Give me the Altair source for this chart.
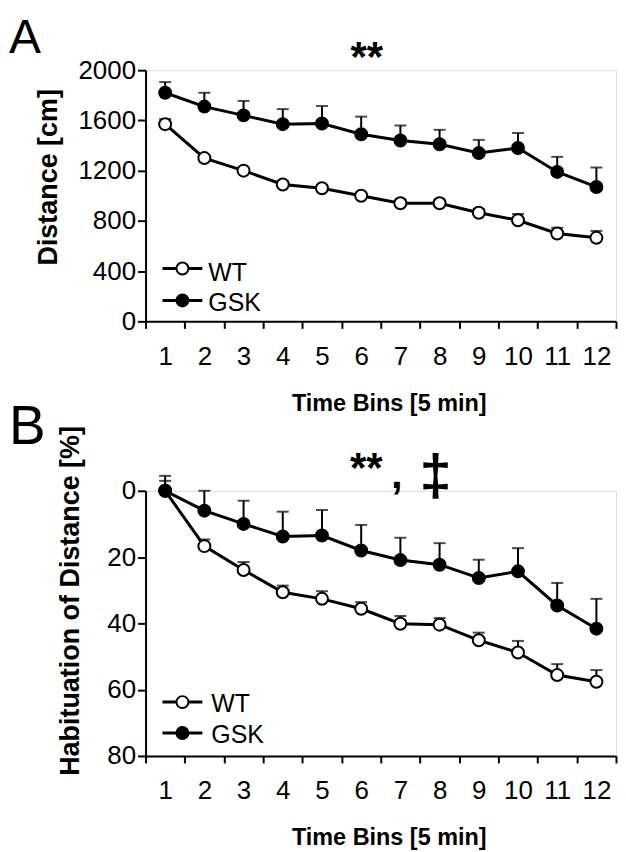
import altair as alt
import pandas as pd

bins = list(range(1, 13))
series_names = ["WT", "GSK"]

# Panel A: Distance [cm] (mean, SEM)
dist_wt = [1570, 1300, 1200, 1090, 1060, 1000, 940, 940, 865, 805, 700, 665]
dist_wt_err = [40, 25, 25, 25, 25, 25, 30, 30, 30, 50, 45, 55]
dist_gsk = [1820, 1710, 1640, 1570, 1575, 1490, 1440, 1410, 1340, 1380, 1190, 1070]
dist_gsk_err = [85, 110, 115, 120, 140, 140, 120, 115, 105, 120, 120, 155]

# Panel B: Habituation of Distance [%] (mean, SEM)
hab_wt = [0, 16.7, 23.9, 30.6, 32.6, 35.6, 40.1, 40.4, 45.1, 48.8, 55.6, 57.6]
hab_wt_err = [3, 2, 2.4, 2, 2.3, 2, 2.3, 2, 2.3, 3.5, 3.3, 3.5]
hab_gsk = [0, 6.0, 10.0, 13.8, 13.5, 18.0, 20.9, 22.3, 26.3, 24.3, 34.6, 41.6]
hab_gsk_err = [4.5, 6, 7, 7.5, 7.7, 7.7, 6.7, 6.5, 5.5, 7, 6.8, 9]

FONT = "Liberation Sans"
W = 472


def make_df(wt, wt_err, gsk, gsk_err, sign):
    rows = []
    for name, vals, errs in (("WT", wt, wt_err), ("GSK", gsk, gsk_err)):
        for b, v, e in zip(bins, vals, errs):
            rows.append({"bin": b, "series": name, "value": v, "top": v + sign * e})
    return pd.DataFrame(rows)


def panel(df, height, domain, values, label_step, reverse, y_title, y_title_x, y_title_y,
          letter, letter_size, letter_y, leg_rows, annotations, spacer=None):
    x = alt.X(
        "bin:O",
        sort=bins,
        scale=alt.Scale(paddingInner=0, paddingOuter=0),
        axis=alt.Axis(
            title="Time Bins [5 min]", titleFont=FONT, titleFontSize=23.5, titleFontWeight="bold",
            titleX=244, titleY=82, titleBaseline="middle", titleAlign="center",
            labelAngle=0, labelFont=FONT, labelFontSize=26, labelPadding=15, labelBaseline="top",
            labelColor="black", ticks=True, tickBand="extent", tickSize=7, tickWidth=2,
            tickColor="black", domainWidth=2, domainColor="black", grid=False,
        ),
    )
    yscale = alt.Scale(domain=domain, nice=False, zero=False, reverse=reverse)
    y = alt.Y(
        "value:Q",
        scale=yscale,
        axis=alt.Axis(
            title=y_title, titleFont=FONT, titleFontSize=27, titleFontWeight="bold",
            titleX=y_title_x, titleY=y_title_y, titleBaseline="middle", titleAlign="center",
            titleAngle=270,
            values=values, labelExpr=f"datum.value % {label_step} === 0 ? datum.label : ''",
            format="d", labelFont=FONT, labelFontSize=26, labelPadding=2, labelColor="black",
            tickSize=8, tickWidth=2, tickColor="black", domainWidth=2, domainColor="black",
            grid=False,
        ),
    )
    base = alt.Chart(df)
    err = base.mark_rule(color="black", strokeWidth=2).encode(x=x, y=y, y2="top:Q")
    cap = base.mark_tick(orient="horizontal", size=12, thickness=2, color="black").encode(
        x=x, y=alt.Y("top:Q", scale=yscale))
    line = base.mark_line(color="black", strokeWidth=3).encode(
        x=x, y=y, detail="series:N", order="bin:Q")
    pts = base.mark_circle(size=144, stroke="black", strokeWidth=2, opacity=1).encode(
        x=x, y=y,
        fill=alt.Fill("series:N", scale=alt.Scale(domain=series_names, range=["white", "black"]),
                      legend=None),
    )
    layers = [err, cap, line, pts]

    # in-plot legend
    for label, fill, cy, ty, tx in leg_rows:
        ld = alt.Chart(pd.DataFrame({"label": [label]}))
        layers.append(ld.mark_rule(color="black", strokeWidth=3).encode(
            x=alt.value(17), x2=alt.value(57), y=alt.value(cy)))
        layers.append(ld.mark_circle(size=144, stroke="black", strokeWidth=2, fill=fill,
                                     opacity=1).encode(x=alt.value(37), y=alt.value(cy)))
        layers.append(ld.mark_text(align="left", baseline="alphabetic", font=FONT, fontSize=25,
                                   color="black").encode(
            x=alt.value(tx), y=alt.value(ty), text="label:N"))

    # significance marks
    for txt, ax, ay, size, weight, align in annotations:
        ad = alt.Chart(pd.DataFrame({"t": [txt]}))
        layers.append(ad.mark_text(align=align, baseline="alphabetic", font=FONT, fontSize=size,
                                   fontWeight=weight, color="black").encode(
            x=alt.value(ax), y=alt.value(ay), text="t:N"))

    # panel letter
    ld = alt.Chart(pd.DataFrame({"t": [letter]}))
    layers.append(ld.mark_text(align="left", baseline="alphabetic", font=FONT,
                               fontSize=letter_size, color="black").encode(
        x=alt.value(-137), y=alt.value(letter_y), text="t:N"))

    # invisible spacer that fixes the top margin above the panel
    if spacer is not None:
        sd = alt.Chart(pd.DataFrame({"s": [0]}))
        layers.append(sd.mark_rule(strokeOpacity=0, strokeWidth=1, color="white").encode(
            x=alt.value(-137), x2=alt.value(-120), y=alt.value(spacer)))

    return alt.layer(*layers).properties(width=W, height=height)


dfA = make_df(dist_wt, dist_wt_err, dist_gsk, dist_gsk_err, +1)
dfB = make_df(hab_wt, hab_wt_err, hab_gsk, hab_gsk_err, -1)

panelA = panel(
    dfA, 252, [0, 2000], list(range(0, 2001, 200)), 400, False,
    "Distance [cm]", -97, 107, "A", 48, -17,
    [("WT", "white", 199, 212, 63), ("GSK", "black", 231, 242, 63)],
    [("**", 222, 1, 42, "bold", "center")],
    spacer=-60,
)
panelB = panel(
    dfB, 266, [0, 80], list(range(0, 81, 10)), 20, True,
    "Habituation of Distance [%]", -75, 110, "B", 55, -47,
    [("WT", "white", 212, 222, 66), ("GSK", "black", 243, 253, 66)],
    [("**", 205, -9, 42, "bold", "left"), (",", 252, -3, 42, "bold", "center"),
     ("\u2021", 291, 4, 58, "bold", "center")],
)

chart = alt.vconcat(panelA, panelB, spacing=170, bounds="flush").properties(
    padding=0
).configure_view(stroke=None).configure(background="white")

chart.save("out.html", embed_options={"renderer": "svg", "actions": False})
